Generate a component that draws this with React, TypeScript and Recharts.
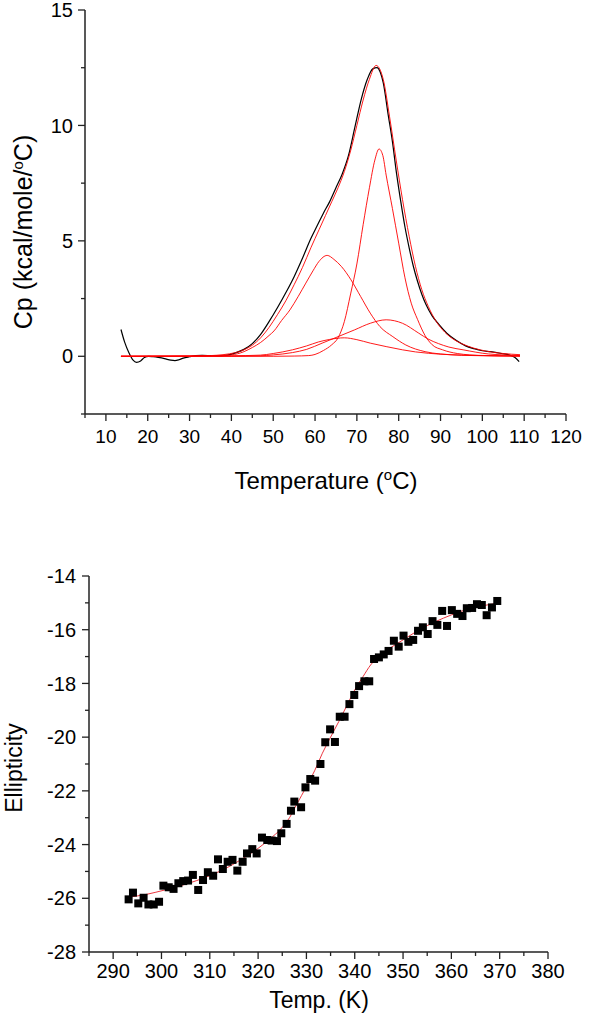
import React from "react"
import { LineChart, Line, XAxis, YAxis, ComposedChart, Scatter, Label } from "recharts"

// ---- top panel: DSC trace (black) and deconvolution fit (red), [T (°C), Cp (kcal/mole/°C)]
const dscTrace: [number, number][] = [
  [13.6, 1.16], [14.5, 0.6], [15.5, 0.15], [16.5, -0.17], [17.3, -0.26], [18.3, -0.2], [19.2, -0.05],
  [20.2, 0], [21.3, -0.02], [22.5, -0.05], [24, -0.1], [25.5, -0.17], [26.5, -0.19], [27.5, -0.15],
  [28.5, -0.08], [30, -0.02], [31.5, 0.03], [33, 0.04], [35, 0.03], [37, 0.02], [39, 0.05], [41, 0.15],
  [43, 0.3], [45, 0.55], [47, 0.95], [49, 1.5], [51, 2.1], [53, 2.75], [55, 3.45], [57, 4.25], [59, 5.1],
  [60.5, 5.65], [62, 6.2], [63.5, 6.7], [65, 7.3], [66.5, 7.9], [68, 8.7], [69.5, 9.9], [71, 11.1],
  [72.5, 12.0], [73.8, 12.45], [74.8, 12.5], [75.6, 12.3], [76.3, 11.85], [77.5, 10.45], [78.5, 9.3],
  [79.5, 7.9], [80.5, 6.7], [81.5, 5.6], [82.5, 4.7], [83.5, 3.9], [84.5, 3.25], [85.5, 2.7], [86.5, 2.25],
  [88, 1.75], [89.5, 1.4], [91.5, 1.0], [93.8, 0.68], [96, 0.45], [98, 0.33], [100, 0.24], [102, 0.2],
  [104.6, 0.12], [106.5, 0.05], [107.8, -0.05], [108.8, -0.23],
]

const fitSum: [number, number][] = [
  [13.6, 0], [20, 0], [25, 0.005], [30, 0.01], [35, 0.03], [38, 0.07], [41, 0.16], [43, 0.28], [45, 0.48],
  [47, 0.8], [49, 1.25], [51, 1.8], [53, 2.4], [55, 3.1], [57, 3.85], [59, 4.7], [61, 5.5], [62.5, 6.1],
  [64, 6.7], [65.5, 7.3], [67, 8.0], [68.5, 8.9], [70, 10.0], [71.5, 11.1], [73, 12.0], [74.6, 12.6],
  [76.3, 12.0], [77.8, 10.4], [79.4, 8.5], [80.9, 6.8], [82.5, 5.2], [84, 3.9], [85.5, 2.9], [87.1, 2.15],
  [89, 1.5], [91, 1.05], [93, 0.75], [95, 0.55], [98, 0.35], [101, 0.22], [105, 0.12], [109, 0.07],
]

const peakMain: [number, number][] = [
  [13.6, 0], [50, 0], [55, 0.01], [58.5, 0.03], [60, 0.08], [62, 0.25], [64, 0.5], [65.5, 0.8], [67, 1.5],
  [68.5, 2.7], [70, 4.0], [71.5, 5.7], [73, 7.3], [74.3, 8.5], [75.3, 8.98], [76.2, 8.7], [77, 7.85],
  [78.5, 6.4], [80, 4.9], [81.5, 3.4], [83, 2.3], [84.5, 1.6], [86.3, 0.9], [88, 0.5], [90.5, 0.28],
  [94, 0.12], [97, 0.06], [101, 0.03], [109, 0.01],
]

const peakLow: [number, number][] = [
  [13.6, 0], [35, 0.01], [40, 0.06], [43, 0.2], [45, 0.38], [47, 0.6], [49, 0.9], [50.2, 1.1], [52, 1.55],
  [54, 2.01], [56, 2.6], [57.8, 3.17], [59.5, 3.7], [60.9, 4.1], [62.9, 4.37], [64.5, 4.2], [66.3, 3.89],
  [68.6, 3.31], [70.9, 2.59], [73.2, 1.87], [75.5, 1.29], [78.6, 0.85], [81.7, 0.49], [86.3, 0.2],
  [90, 0.1], [95, 0.05], [100, 0.03], [109, 0.01],
]

const peakBroad: [number, number][] = [
  [13.6, 0], [40, 0.005], [46.9, 0.02], [50, 0.06], [54.6, 0.16], [58, 0.3], [61.7, 0.57], [65.5, 0.85],
  [69.4, 1.14], [73.2, 1.43], [77, 1.58], [80.9, 1.43], [84.8, 1.0], [87, 0.75], [89.5, 0.55], [92, 0.4],
  [95.4, 0.28], [101.5, 0.1], [105, 0.06], [109, 0.03],
]

const peakSmall: [number, number][] = [
  [13.6, 0], [35, 0.01], [40, 0.02], [46.9, 0.05], [50, 0.12], [54.6, 0.28], [58, 0.45], [60.8, 0.62],
  [63.5, 0.73], [67, 0.8], [70, 0.72], [73.2, 0.57], [77, 0.42], [80.9, 0.28], [84, 0.19], [87.1, 0.13],
  [92, 0.07], [98, 0.03], [109, 0.01],
]

const topXTicks = [5, 10, 15, 20, 25, 30, 35, 40, 45, 50, 55, 60, 65, 70, 75, 80, 85, 90, 95, 100, 105, 110, 115, 120]
const topYTicks = [-2.5, 0, 2.5, 5, 7.5, 10, 12.5, 15]

// ---- bottom panel: CD ellipticity vs temperature, [T (K), ellipticity]
const cdPoints: [number, number][] = [
  [293.2, -26.04], [294.1, -25.79], [295.2, -26.19], [296.3, -25.98], [297.3, -26.23], [298.4, -26.23],
  [299.5, -26.13], [300.4, -25.53], [301.5, -25.59], [302.5, -25.65], [303.5, -25.44], [304.5, -25.36],
  [305.5, -25.34], [306.5, -25.13], [307.6, -25.69], [308.6, -25.32], [309.6, -25.03], [310.7, -25.16],
  [311.7, -24.55], [312.7, -24.91], [313.7, -24.64], [314.7, -24.57], [315.7, -24.97], [316.8, -24.64],
  [317.7, -24.33], [318.8, -24.17], [319.7, -24.33], [320.8, -23.74], [321.9, -23.83], [322.8, -23.85],
  [323.9, -23.87], [324.8, -23.58], [325.9, -23.23], [326.8, -22.74], [327.5, -22.4], [328.9, -22.61],
  [329.8, -21.87], [330.8, -21.56], [331.8, -21.62], [332.9, -21.0], [333.9, -20.19], [334.9, -19.71],
  [335.9, -20.18], [336.9, -19.24], [337.9, -19.24], [338.9, -18.77], [339.9, -18.43], [340.9, -18.1],
  [342, -17.92], [343, -17.92], [344, -17.09], [345, -17.03], [346, -16.92], [347, -16.79], [348.1, -16.41],
  [349.1, -16.63], [350.1, -16.22], [351.1, -16.45], [352.1, -16.38], [353.1, -16.04], [354.1, -15.91],
  [355.1, -16.16], [356.1, -15.68], [357.1, -15.82], [358.1, -15.3], [359.1, -15.86], [360.1, -15.27],
  [361.2, -15.41], [362.3, -15.49], [363.2, -15.2], [364.3, -15.19], [365.3, -15.05], [366.3, -15.08],
  [367.3, -15.46], [368.4, -15.17], [369.5, -14.93],
]

const cdFit: [number, number][] = [
  [293.2, -25.96], [297, -25.85], [300.7, -25.69], [304, -25.53], [307.3, -25.34], [310.5, -25.12],
  [314, -24.82], [317, -24.5], [320, -24.14], [322.5, -23.78], [324.7, -23.42], [326.5, -23.0], [328, -22.5],
  [330, -21.84], [331.7, -21.25], [333.3, -20.6], [335, -20.0], [336.7, -19.42], [338.3, -18.85],
  [340, -18.24], [341.7, -17.75], [343.3, -17.31], [345, -17.0], [346.7, -16.76], [350, -16.38],
  [353.3, -16.01], [356.7, -15.7], [360, -15.45], [363.3, -15.24], [366.7, -15.1], [369.5, -15.02],
]

const botXTicks = [285, 290, 295, 300, 305, 310, 315, 320, 325, 330, 335, 340, 345, 350, 355, 360, 365, 370, 375, 380]
const botYTicks = [-28, -27, -26, -25, -24, -23, -22, -21, -20, -19, -18, -17, -16, -15, -14]

const FONT = "'Liberation Sans', Arial, Helvetica, sans-serif"
const AXIS = "#222"

const pts = (rows: [number, number][]) => rows.map(([x, y]) => ({ x, y }))

// origin-style ticks: outward, long+labelled for majors, short for minors
function xTick(isMajor: (v: number) => boolean, gap: number, size: number) {
  return (props: any) => {
    const { x, y, payload } = props
    const major = isMajor(payload.value)
    return (
      <g>
        <line x1={x} x2={x} y1={y} y2={y + (major ? 7 : 4)} stroke={AXIS} strokeWidth={1.3} />
        {major && (
          <text x={x} y={y + gap} dy="0.71em" textAnchor="middle" fontSize={size} fontFamily={FONT} fill="#000">
            {payload.value}
          </text>
        )}
      </g>
    )
  }
}

function yTick(isMajor: (v: number) => boolean, gap: number, size: number) {
  return (props: any) => {
    const { x, y, payload } = props
    const major = isMajor(payload.value)
    return (
      <g>
        <line x1={x} x2={x - (major ? 7 : 4)} y1={y} y2={y} stroke={AXIS} strokeWidth={1.3} />
        {major && (
          <text x={x - gap} y={y} dy="0.36em" textAnchor="end" fontSize={size} fontFamily={FONT} fill="#000">
            {payload.value}
          </text>
        )}
      </g>
    )
  }
}

const SquareDot = (p: any) => <rect x={p.cx - 4} y={p.cy - 4} width={8} height={8} fill="#000" />

function TopChart() {
  const red = { type: "monotone" as const, stroke: "#ff0000", strokeWidth: 0.9, dot: false, isAnimationActive: false, dataKey: "y" }
  return (
    <LineChart width={600} height={520} margin={{ top: 10, right: 34, bottom: 46, left: 0 }}>
      <XAxis
        type="number"
        dataKey="x"
        domain={[5, 120]}
        ticks={topXTicks}
        interval={0}
        allowDataOverflow
        height={60}
        tickSize={0}
        tickMargin={0}
        tickLine={false}
        axisLine={{ stroke: AXIS, strokeWidth: 1.5 }}
        tick={xTick((v) => v % 10 === 0, 16, 19)}
      >
        <Label
          content={() => (
            <text x={326} y={489} textAnchor="middle" fontSize={24} fontFamily={FONT} fill="#000">
              Temperature (<tspan dy={-9} fontSize={15}>o</tspan>
              <tspan dy={9}>C)</tspan>
            </text>
          )}
        />
      </XAxis>
      <YAxis
        type="number"
        domain={[-2.5, 15]}
        ticks={topYTicks}
        interval={0}
        allowDataOverflow
        width={85}
        tickSize={0}
        tickMargin={0}
        tickLine={false}
        axisLine={{ stroke: AXIS, strokeWidth: 1.5 }}
        tick={yTick((v) => v % 5 === 0, 12, 20)}
      >
        <Label
          content={() => (
            <text x={32} y={232} transform="rotate(-90 32 232)" textAnchor="middle" fontSize={25} fontFamily={FONT} fill="#000">
              Cp (kcal/mole/<tspan dy={-9} fontSize={15}>o</tspan>
              <tspan dy={9}>C)</tspan>
            </text>
          )}
        />
      </YAxis>
      <Line data={pts(dscTrace)} type="monotone" dataKey="y" stroke="#000" strokeWidth={1.2} dot={false} isAnimationActive={false} />
      <Line data={pts(peakSmall)} {...red} />
      <Line data={pts(peakBroad)} {...red} />
      <Line data={pts(peakLow)} {...red} />
      <Line data={pts(peakMain)} {...red} />
      <Line data={pts(fitSum)} {...red} />
    </LineChart>
  )
}

function BottomChart() {
  return (
    <ComposedChart width={600} height={482} margin={{ top: 36, right: 52, bottom: 10, left: 0 }}>
      <XAxis
        type="number"
        dataKey="x"
        domain={[285, 380]}
        ticks={botXTicks}
        interval={0}
        allowDataOverflow
        height={60}
        tickSize={0}
        tickMargin={0}
        tickLine={false}
        axisLine={{ stroke: AXIS, strokeWidth: 1.5 }}
        tick={xTick((v) => v % 10 === 0, 12, 20)}
      >
        <Label
          content={() => (
            <text x={319} y={468} textAnchor="middle" fontSize={23} fontFamily={FONT} fill="#000">
              Temp. (K)
            </text>
          )}
        />
      </XAxis>
      <YAxis
        type="number"
        dataKey="y"
        domain={[-28, -14]}
        ticks={botYTicks}
        interval={0}
        allowDataOverflow
        width={89}
        tickSize={0}
        tickMargin={0}
        tickLine={false}
        axisLine={{ stroke: AXIS, strokeWidth: 1.5 }}
        tick={yTick((v) => v % 2 === 0, 13, 20)}
      >
        <Label
          content={() => (
            <text x={22} y={228} transform="rotate(-90 22 228)" textAnchor="middle" fontSize={23} fontFamily={FONT} fill="#000">
              Ellipticity
            </text>
          )}
        />
      </YAxis>
      <Scatter data={pts(cdPoints)} dataKey="y" shape={SquareDot} isAnimationActive={false} />
      <Line data={pts(cdFit)} type="monotone" dataKey="y" stroke="#e8202a" strokeWidth={0.9} dot={false} isAnimationActive={false} />
    </ComposedChart>
  )
}

export default function App() {
  return (
    <div style={{ position: "absolute", left: 0, top: 0, width: 600, height: 1022, background: "#fff" }}>
      <div style={{ position: "absolute", left: 0, top: 0 }}>
        <TopChart />
      </div>
      <div style={{ position: "absolute", left: 0, top: 540 }}>
        <BottomChart />
      </div>
    </div>
  )
}
